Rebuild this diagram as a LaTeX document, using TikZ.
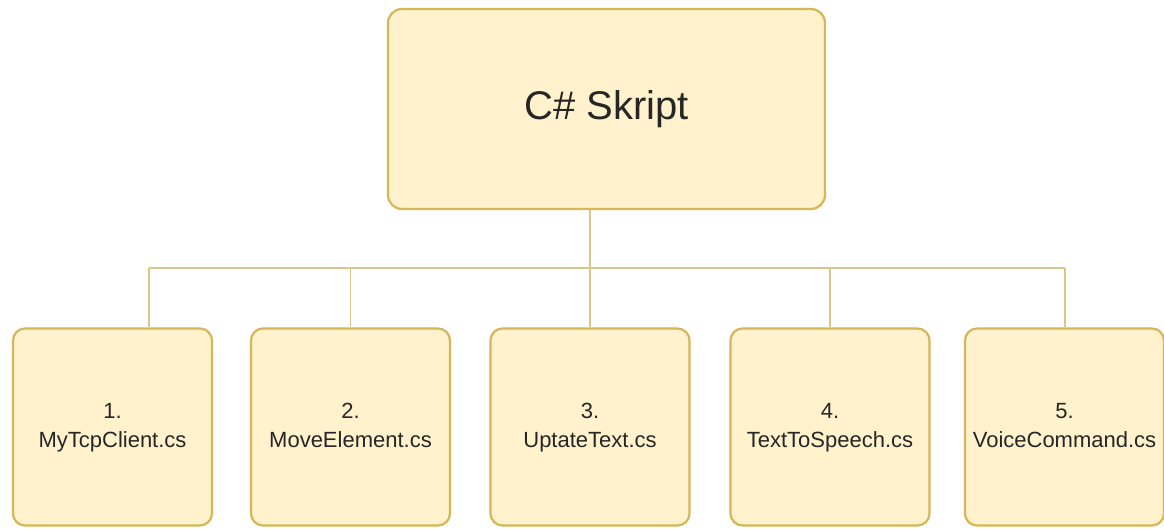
\documentclass[tikz,border=0pt]{standalone}
\usepackage{fontspec}
\setmainfont{Liberation Sans}
\definecolor{boxfill}{HTML}{FFF2CC}
\definecolor{boxdraw}{HTML}{D6B656}
\definecolor{linecol}{HTML}{D9C68A}
\begin{document}
\begin{tikzpicture}[x=1pt,y=-1pt,
  topbox/.style={draw=boxdraw,fill=boxfill,line width=2.2pt,rounded corners=14pt,minimum width=437pt,minimum height=200pt,inner sep=0pt,font=\fontsize{40}{48}\selectfont,text=black!85},
  filebox/.style={draw=boxdraw,fill=boxfill,line width=2.2pt,rounded corners=12pt,minimum width=199pt,minimum height=197pt,inner sep=0pt,align=center,font=\fontsize{22}{29}\selectfont,text=black!85},
  conn/.style={draw=linecol,line width=1.4pt}]
\useasboundingbox (0,0) rectangle (1164,529);
\fill[white] (0,0) rectangle (1164,529);
\node[topbox] (top) at (606.5,109) {C\# Skript};
\node[filebox] (f1) at (112.5,427) {1.\strut\\MyTcpClient.cs\strut};
\node[filebox] (f2) at (350.5,427) {2.\strut\\MoveElement.cs\strut};
\node[filebox] (f3) at (590,427) {3.\strut\\UptateText.cs\strut};
\node[filebox] (f4) at (830,427) {4.\strut\\TextToSpeech.cs\strut};
\node[filebox] (f5) at (1064.5,427) {5.\strut\\VoiceCommand.cs\strut};
\coordinate (hub) at (590,268);
\coordinate (l1) at (149,268);
\coordinate (l5) at (1065,268);
\draw[conn] (top.south -| hub) -- (hub);
\draw[conn] (l1) -- (l5);
\draw[conn] (l1) -- (l1 |- f1.north);
\draw[conn] (f2.north |- hub) -- (f2.north);
\draw[conn] (hub) -- (f3.north);
\draw[conn] (f4.north |- hub) -- (f4.north);
\draw[conn] (l5) -- (l5 |- f5.north);
\end{tikzpicture}
\end{document}
